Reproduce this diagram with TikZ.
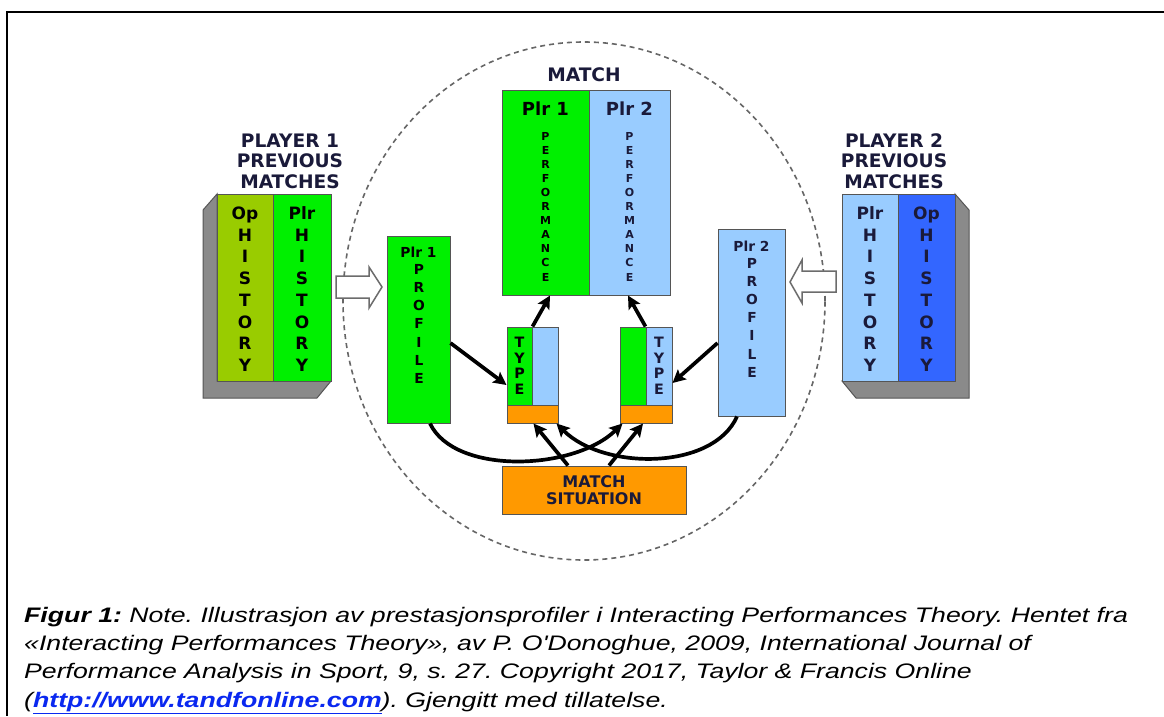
\documentclass[tikz,border=0pt]{standalone}
\usepackage{fontspec}
\usepackage{graphicx}
\newfontfamily\vfont{DejaVu Sans}
\newfontfamily\capfont{Liberation Sans}
\usetikzlibrary{arrows.meta}

\definecolor{plrgreen}{HTML}{00F000}
\definecolor{opgreen}{HTML}{99CC00}
\definecolor{lblue}{HTML}{99CCFF}
\definecolor{dblue}{HTML}{3366FF}
\definecolor{msorange}{HTML}{FF9900}
\definecolor{navy}{HTML}{1A1A3A}
\definecolor{edge}{HTML}{555555}
\definecolor{shadowgray}{HTML}{8A8A8A}
\definecolor{linkblue}{HTML}{0A28F0}

\newcommand{\wide}[1]{\scalebox{1.27}[1]{#1}}

\tikzset{
  box/.style={draw=edge, line width=1pt, inner sep=0pt, minimum width=#1},
  hdr/.style={font=\vfont\bfseries\fontsize{18.6}{21}\selectfont, text=navy, inner sep=0pt, text height=13.5pt, text depth=0pt},
  stk/.style={font=\vfont\bfseries\fontsize{17}{19}\selectfont, text=black, inner sep=0pt, text height=12.4pt, text depth=0pt},
  plrlab/.style={font=\vfont\bfseries\fontsize{18}{20}\selectfont, text=black, inner sep=0pt, text height=13.1pt, text depth=0pt},
  perfl/.style={font=\vfont\bfseries\fontsize{11}{12}\selectfont, text=black, inner sep=0pt, text height=8pt, text depth=0pt},
  profl/.style={font=\vfont\bfseries\fontsize{13.8}{15}\selectfont, text=black, inner sep=0pt, text height=10pt, text depth=0pt},
  typl/.style={font=\vfont\bfseries\fontsize{14.3}{15}\selectfont, text=black, inner sep=0pt, text height=10.4pt, text depth=0pt},
  msl/.style={font=\vfont\bfseries\fontsize{16}{18}\selectfont, text=navy, inner sep=0pt, text height=11.7pt, text depth=0pt},
  blk/.style={-{Stealth[length=13pt,width=13pt,inset=2.5pt]}, line width=3.7pt, black},
  hollow/.style={draw=gray!85!black, line width=1.5pt, fill=white, line join=miter},
  captxt/.style={font=\capfont\itshape\fontsize{21}{24}\selectfont, inner sep=0pt, anchor=base west},
}

\begin{document}
\frenchspacing
\begin{tikzpicture}[x=1pt, y=-1pt]
\useasboundingbox (0,0) rectangle (1164,716);
\fill[white] (0,0) rectangle (1164,716);

% frame
\draw[line width=2pt] (1164,12) -- (7,12) -- (7,716);

% match ellipse
\draw[gray!80!black, line width=1.6pt, dash pattern=on 5pt off 4pt] (584,301) ellipse [x radius=241pt, y radius=259pt];

% ---------- player 1 previous matches ----------
\filldraw[fill=shadowgray, draw=edge, line width=1pt] (217,194) -- (203,210) -- (203,398) -- (317,398) -- (331,381) -- (217,381) -- cycle;
\node[box=56pt, minimum height=187pt, fill=opgreen] (lop) at (245,287.5) {};
\node[box=58pt, minimum height=187pt, fill=plrgreen] (lplr) at (302,287.5) {};
\node[hdr] (h1a) at (290,141) {PLAYER 1};
\node[hdr] (h1b) at (290,161) {PREVIOUS};
\node[hdr] (h1c) at (290,182) {MATCHES};
\node[stk] (lopt) at (245,213) {Op};
\node[stk] (lplrt) at (302,213) {Plr};
\foreach \ch [count=\i from 0] in {H,I,S,T,O,R,Y} {
  \node[stk] (lh\i) at (245,235+21.7*\i) {\ch};
  \node[stk] (lp\i) at (302,235+21.7*\i) {\ch};
}

% ---------- player 2 previous matches ----------
\filldraw[fill=shadowgray, draw=edge, line width=1pt] (955,194) -- (969,210) -- (969,398) -- (856,398) -- (842,381) -- (955,381) -- cycle;
\node[box=56pt, minimum height=187pt, fill=lblue] (rplr) at (870,287.5) {};
\node[box=57pt, minimum height=187pt, fill=dblue] (rop) at (926.5,287.5) {};
\node[hdr] (h2a) at (894,141) {PLAYER 2};
\node[hdr] (h2b) at (894,161) {PREVIOUS};
\node[hdr] (h2c) at (894,182) {MATCHES};
\node[stk, text=navy] (rplrt) at (870,213) {Plr};
\node[stk, text=navy] (ropt) at (926.5,213) {Op};
\foreach \ch [count=\i from 0] in {H,I,S,T,O,R,Y} {
  \node[stk, text=navy] (rp\i) at (870,235+21.7*\i) {\ch};
  \node[stk, text=navy] (rh\i) at (926.5,235+21.7*\i) {\ch};
}

% hollow arrows into the profiles
\draw[hollow] (336,276) -- (369,276) -- (369,267) -- (382,287) -- (369,308) -- (369,298) -- (336,298) -- cycle;
\draw[hollow] (836,271) -- (802,271) -- (802,260) -- (790,282) -- (802,303) -- (802,292) -- (836,292) -- cycle;

% ---------- match ----------
\node[hdr] (mt) at (584,75) {MATCH};
\node[box=87pt, minimum height=205pt, fill=plrgreen] (perf1) at (545.5,192.5) {};
\node[box=81pt, minimum height=205pt, fill=lblue] (perf2) at (629.5,192.5) {};
\node[plrlab] (p1l) at (545.5,109) {Plr 1};
\node[plrlab, text=navy] (p2l) at (629.5,109) {Plr 2};
\foreach \ch [count=\i from 0] in {P,E,R,F,O,R,M,A,N,C,E} {
  \node[perfl] (pa\i) at (545.5,136+14.1*\i) {\ch};
  \node[perfl, text=navy] (pb\i) at (629.5,136+14.1*\i) {\ch};
}

% profiles
\node[box=63pt, minimum height=187pt, fill=plrgreen] (prof1) at (418.5,329.5) {};
\node[profl] (pr1l) at (418.5,252) {Plr 1};
\foreach \ch [count=\i from 0] in {P,R,O,F,I,L,E}
  \node[profl] (pra\i) at (419,269+18.3*\i) {\ch};
\node[box=67pt, minimum height=187pt, fill=lblue] (prof2) at (751.5,322.5) {};
\node[profl, text=navy] (pr2l) at (751.5,246) {Plr 2};
\foreach \ch [count=\i from 0] in {P,R,O,F,I,L,E}
  \node[profl, text=navy] (prb\i) at (752,263+18.2*\i) {\ch};

% type boxes
\node[box=25pt, minimum height=78pt, fill=plrgreen] (t1g) at (519.5,366) {};
\node[box=26pt, minimum height=78pt, fill=lblue] (t1b) at (545,366) {};
\node[box=51pt, minimum height=18pt, fill=msorange] (t1o) at (532.5,414) {};
\node[box=26pt, minimum height=78pt, fill=plrgreen] (t2g) at (633,366) {};
\node[box=26pt, minimum height=78pt, fill=lblue] (t2b) at (659,366) {};
\node[box=52pt, minimum height=18pt, fill=msorange] (t2o) at (646,414) {};
\foreach \ch [count=\i from 0] in {T,Y,P,E} {
  \node[typl] (ta\i) at (519.5,342+15.8*\i) {\ch};
  \node[typl, text=navy] (tb\i) at (659,342+15.8*\i) {\ch};
}

% match situation
\node[box=184pt, minimum height=48pt, fill=msorange] (ms) at (594,490) {};
\node[msl] (ms1) at (594,482) {MATCH};
\node[msl] (ms2) at (594,499) {SITUATION};

% ---------- connectors ----------
\draw[blk] ([yshift=-13.5pt]prof1.east) -- ([yshift=-19pt]t1g.west);
\draw[blk] ([yshift=-20.5pt]prof2.west) -- ([yshift=-17pt]t2b.east);
\draw[blk] (t1g.north east) -- ([xshift=4.5pt]perf1.south);
\draw[blk] (t2b.north west) -- ([xshift=-1.5pt]perf2.south);
\draw[blk] ([xshift=11.5pt]prof1.south) .. controls +(25,52) and +(-48,47) .. ([xshift=3pt]t2o.south west);
\draw[blk] ([xshift=-14.5pt]prof2.south) .. controls +(-24,54) and +(47,47) .. ([xshift=-2pt]t1o.south east);
\draw[blk] ([xshift=-26pt]ms.north) -- ([xshift=1pt]t1o.south);
\draw[blk] ([xshift=15pt]ms.north) -- ([xshift=-3pt]t2o.south);

% ---------- caption ----------
\node[captxt] (c1) at (24,622) {\wide{{\bfseries Figur 1:} Note. Illustrasjon av prestasjonsprofiler i Interacting Performances Theory. Hentet fra}};
\node[captxt] (c2) at (24,650) {\wide{«Interacting Performances Theory», av P. O'Donoghue, 2009, International Journal of}};
\node[captxt] (c3) at (24,678) {\wide{Performance Analysis in Sport, 9, s. 27. Copyright 2017, Taylor \& Francis Online}};
\node[captxt] (c4) at (24,707) {\wide{({\bfseries\color{linkblue}\underline{http://www.tandfonline.com}}). Gjengitt med tillatelse.}};
\end{tikzpicture}
\end{document}
